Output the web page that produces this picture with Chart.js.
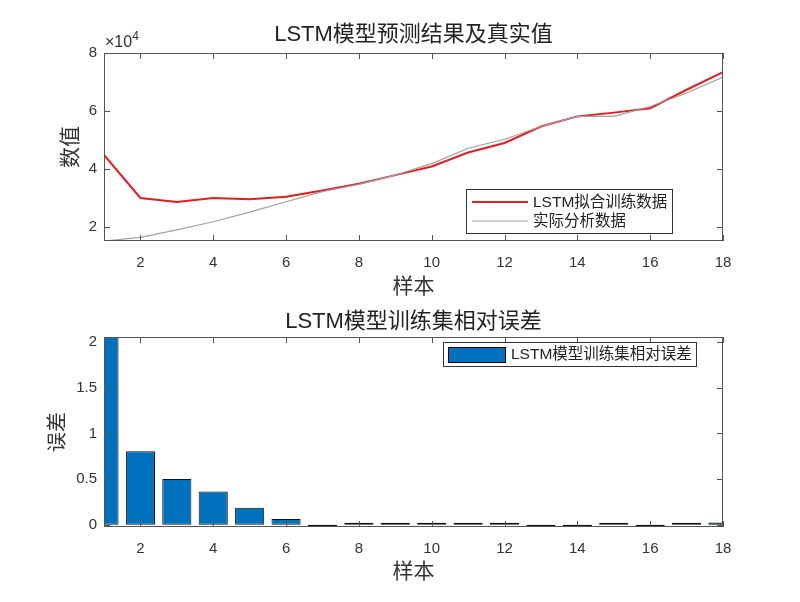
<!DOCTYPE html>
<html>
<head>
<meta charset="utf-8">
<script src="https://cdn.jsdelivr.net/npm/chart.js@4.4.0/dist/chart.umd.min.js"></script>
<style>
  html, body { margin: 0; padding: 0; background: #fff; }
  #wrap { position: relative; width: 800px; height: 602px; }
  canvas { position: absolute; left: 0; }
</style>
</head>
<body>
<div id="wrap">
  <canvas id="fitChart" width="800" height="301" style="top:0"></canvas>
  <canvas id="errChart" width="800" height="301" style="top:301px"></canvas>
</div>
<script>
// ---- data ----
var samples = [1,2,3,4,5,6,7,8,9,10,11,12,13,14,15,16,17,18];
// LSTM fitted values (x1e4)
var lstmFit = [4.48,2.99,2.85,2.99,2.95,3.03,3.25,3.48,3.78,4.08,4.56,4.89,5.46,5.81,5.94,6.09,6.73,7.34];
// real values (x1e4)
var realVal = [1.505,1.63,1.89,2.17,2.50,2.86,3.21,3.46,3.78,4.18,4.71,5.02,5.46,5.81,5.81,6.15,6.62,7.17];
// relative error per sample
var relErr = [2.06,0.805,0.50,0.363,0.187,0.062,-0.012,0.01,0.01,0.005,0.005,0.005,-0.004,-0.004,0.01,-0.01,0.01,0.025];

var xTicks = [2,4,6,8,10,12,14,16,18];
var yTicksFit = [20000,40000,60000,80000];
var yTicksErr = [0,0.5,1,1.5,2];

var title1 = 'LSTM模型预测结果及真实值';
var title2 = 'LSTM模型训练集相对误差';
var xLabel = '样本';
var yLabel1 = '数值';
var yLabel2 = '误差';
var fitLabel = 'LSTM拟合训练数据';
var realLabel = '实际分析数据';
var errLabel = 'LSTM模型训练集相对误差';

var FAM = '"Liberation Sans", "Noto Sans CJK SC", sans-serif';
var tickColor = '#333333';

// box + inner ticks + x10^4 + legend, matlab style
var matlabBox = {
  id: 'matlabBox',
  afterDraw: function(chart, args, opts) {
    var ctx = chart.ctx, a = chart.chartArea;
    var sx = chart.scales.x, sy = chart.scales.y;
    ctx.save();
    ctx.strokeStyle = '#555555';
    ctx.lineWidth = 1;
    ctx.strokeRect(Math.round(a.left) + 0.5, Math.round(a.top) + 0.5,
                   Math.round(a.width) - 1, Math.round(a.height) - 1);
    var tl = 6;
    ctx.beginPath();
    sx.ticks.forEach(function(t) {
      var p = Math.round(sx.getPixelForValue(t.value)) + 0.5;
      ctx.moveTo(p, a.bottom); ctx.lineTo(p, a.bottom - tl);
      ctx.moveTo(p, a.top); ctx.lineTo(p, a.top + tl);
    });
    sy.ticks.forEach(function(t) {
      var p = Math.round(sy.getPixelForValue(t.value)) + 0.5;
      ctx.moveTo(a.left, p); ctx.lineTo(a.left + tl, p);
      ctx.moveTo(a.right, p); ctx.lineTo(a.right - tl, p);
    });
    ctx.stroke();

    if (opts.exponent) {
      ctx.fillStyle = tickColor;
      ctx.textBaseline = 'alphabetic';
      ctx.textAlign = 'left';
      ctx.font = '16px ' + FAM;
      ctx.fillText('×10', a.left + 1, a.top - 6);
      var w = ctx.measureText('×10').width;
      ctx.font = '12px ' + FAM;
      ctx.fillText(opts.exponent, a.left + 1 + w, a.top - 13);
    }

    var lg = opts.legend;
    if (lg) {
      ctx.fillStyle = '#ffffff';
      ctx.fillRect(lg.x, lg.y, lg.w, lg.h);
      ctx.strokeStyle = '#333333';
      ctx.lineWidth = 1;
      ctx.strokeRect(lg.x + 0.5, lg.y + 0.5, lg.w, lg.h);
      ctx.font = lg.fontSize + 'px ' + FAM;
      ctx.textBaseline = 'middle';
      ctx.textAlign = 'left';
      lg.items.forEach(function(it, i) {
        var ds = chart.data.datasets[it.ds];
        var cy = lg.y + lg.firstRow + i * lg.rowGap;
        if (it.kind === 'line') {
          ctx.strokeStyle = ds.borderColor;
          ctx.lineWidth = ds.borderWidth;
          ctx.beginPath();
          ctx.moveTo(lg.x + 6, cy); ctx.lineTo(lg.x + 6 + lg.sample, cy);
          ctx.stroke();
        } else {
          ctx.fillStyle = ds.backgroundColor;
          ctx.fillRect(lg.x + 5, cy - 7, lg.sample, 15);
          ctx.strokeStyle = '#000';
          ctx.lineWidth = 1;
          ctx.strokeRect(lg.x + 5.5, cy - 6.5, lg.sample, 15);
        }
        ctx.fillStyle = '#222222';
        ctx.fillText(ds.label, lg.x + 11 + lg.sample, cy + 1);
      });
    }
    ctx.restore();
  }
};

function tickSetter(arr) {
  return function(s) { s.ticks = arr.map(function(v) { return {value: v}; }); };
}

// ---- top: fitted vs real ----
new Chart(document.getElementById('fitChart').getContext('2d'), {
  type: 'line',
  data: {
    datasets: [
      { label: fitLabel, data: samples.map(function(x, i) { return {x: x, y: lstmFit[i] * 1e4}; }),
        borderColor: 'rgb(232,28,32)', borderWidth: 2, pointRadius: 0, tension: 0, order: 1 },
      { label: realLabel, data: samples.map(function(x, i) { return {x: x, y: realVal[i] * 1e4}; }),
        borderColor: 'rgb(160,160,160)', borderWidth: 1.2, pointRadius: 0, tension: 0, order: 0 }
    ]
  },
  options: {
    responsive: false, animation: false,
    layout: { padding: { top: 0, left: 0, right: 77, bottom: 0 } },
    plugins: {
      legend: { display: false }, tooltip: { enabled: false },
      title: { display: true, fullSize: false, text: title1, color: '#222222',
               font: { size: 22, family: FAM, weight: 'normal', lineHeight: 1 },
               padding: { top: 24, bottom: 7 } },
      matlabBox: {
        exponent: '4',
        legend: { x: 466, y: 189, w: 206, h: 44, fontSize: 15.5, firstRow: 13, rowGap: 19, sample: 56,
                  items: [ { ds: 0, kind: 'line' }, { ds: 1, kind: 'line' } ] }
      }
    },
    scales: {
      x: { type: 'linear', min: 1, max: 18,
           afterBuildTicks: tickSetter(xTicks),
           afterFit: function(s) { s.height = 60; },
           grid: { display: false, drawTicks: false }, border: { display: false },
           ticks: { padding: 13, maxRotation: 0, autoSkip: false, color: tickColor, font: { size: 15, family: FAM } },
           title: { display: true, text: xLabel, color: '#333333',
                    font: { size: 21, family: FAM, lineHeight: 1 }, padding: { top: 0, bottom: 3.5 } } },
      y: { min: 15050, max: 80000,
           afterBuildTicks: tickSetter(yTicksFit),
           afterFit: function(s) { s.width = 104; },
           grid: { display: false, drawTicks: false }, border: { display: false },
           ticks: { padding: 7, color: tickColor, font: { size: 15, family: FAM },
                    callback: function(v) { return String(v / 1e4); } },
           title: { display: true, text: yLabel1, color: '#333333',
                    font: { size: 21, family: FAM, lineHeight: 1 }, padding: { top: 60.5, bottom: 0 } } }
    }
  },
  plugins: [matlabBox]
});

// ---- bottom: relative error bars ----
new Chart(document.getElementById('errChart').getContext('2d'), {
  type: 'bar',
  data: {
    datasets: [
      { label: errLabel, data: samples.map(function(x, i) { return {x: x, y: relErr[i]}; }),
        backgroundColor: '#0072BD', borderColor: '#111111', borderWidth: 1, borderSkipped: false,
        minBarLength: 2, barPercentage: 0.8, categoryPercentage: 1, clip: 0 }
    ]
  },
  options: {
    responsive: false, animation: false,
    layout: { padding: { top: 0, left: 0, right: 77, bottom: 0 } },
    plugins: {
      legend: { display: false }, tooltip: { enabled: false },
      title: { display: true, fullSize: false, text: title2, color: '#222222',
               font: { size: 22, family: FAM, weight: 'normal', lineHeight: 1 },
               padding: { top: 10, bottom: 4 } },
      matlabBox: {
        legend: { x: 443, y: 41, w: 253, h: 24, fontSize: 15.5, firstRow: 12, rowGap: 0, sample: 57,
                  items: [ { ds: 0, kind: 'patch' } ] }
      }
    },
    scales: {
      x: { type: 'linear', min: 1, max: 18, offset: false,
           afterBuildTicks: tickSetter(xTicks),
           afterFit: function(s) { s.height = 75; },
           grid: { display: false, drawTicks: false, offset: false }, border: { display: false },
           ticks: { padding: 13, maxRotation: 0, autoSkip: false, color: tickColor, font: { size: 15, family: FAM } },
           title: { display: true, text: xLabel, color: '#333333',
                    font: { size: 21, family: FAM, lineHeight: 1 }, padding: { top: 0, bottom: 19.5 } } },
      y: { min: -0.025, max: 2.055,
           afterBuildTicks: tickSetter(yTicksErr),
           afterFit: function(s) { s.width = 104; },
           grid: { display: false, drawTicks: false }, border: { display: false },
           ticks: { padding: 7, color: tickColor, font: { size: 15, family: FAM },
                    callback: function(v) { return String(v); } },
           title: { display: true, text: yLabel2, color: '#333333',
                    font: { size: 20, family: FAM, lineHeight: 1 }, padding: { top: 48, bottom: 0 } } }
    }
  },
  plugins: [matlabBox]
});
</script>
</body>
</html>
